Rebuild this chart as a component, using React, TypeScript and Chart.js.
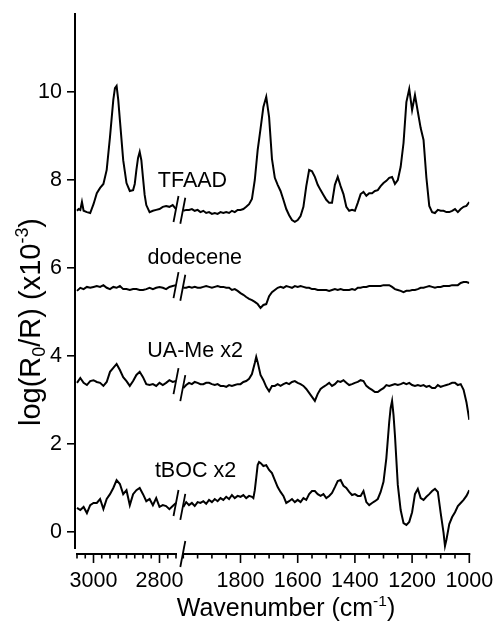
import React, { useEffect, useRef } from "react";
import { Chart, registerables } from "chart.js";

Chart.register(...registerables);

const FONT_FAMILY = "'Liberation Sans', Arial, Helvetica, sans-serif";

// ---------- axis definitions (wavenumber in cm-1) ----------
const LEFT_SPAN = [3050, 2750];
const RIGHT_SPAN = [2000, 1000];
const Y_MIN = -0.5;
const Y_MAX = 11.795;
const Y_AXIS_LINE_BOTTOM = -0.386;
const Y_TICKS = [0, 2, 4, 6, 8, 10];
const X_MAJOR = [3000, 2800, 1800, 1600, 1400, 1200, 1000];
const X_MINOR = [
  3050, 3025, 2975, 2950, 2925, 2900, 2875, 2850, 2825, 2775, 2750,
  2000, 1950, 1900, 1850, 1750, 1700, 1650, 1550, 1500, 1450, 1350, 1300, 1250, 1150, 1100, 1050,
];

// ---------- sampling grids ----------
const LEFT_GRID = [
  3050, 3040, 3030, 3020, 3010, 3000, 2990, 2980, 2970, 2960,
  2950, 2940, 2930, 2920, 2910, 2900, 2890, 2880, 2870, 2860,
  2850, 2840, 2830, 2820, 2810, 2800, 2790, 2780, 2770, 2760,
  2750,
];
const RIGHT_GRID = [
  2000, 1990, 1980, 1970, 1960, 1950, 1940, 1930, 1920, 1910,
  1900, 1890, 1880, 1870, 1860, 1850, 1840, 1830, 1820, 1810,
  1800, 1790, 1780, 1770, 1760, 1750, 1740, 1730, 1720, 1710,
  1700, 1690, 1680, 1670, 1660, 1650, 1640, 1630, 1620, 1610,
  1600, 1590, 1580, 1570, 1560, 1550, 1540, 1530, 1520, 1510,
  1500, 1490, 1480, 1470, 1460, 1450, 1440, 1430, 1420, 1410,
  1400, 1390, 1380, 1370, 1360, 1350, 1340, 1330, 1320, 1310,
  1300, 1290, 1280, 1270, 1260, 1250, 1240, 1230, 1220, 1210,
  1200, 1190, 1180, 1170, 1160, 1150, 1140, 1130, 1120, 1110,
  1100, 1090, 1080, 1070, 1060, 1050, 1040, 1030, 1020, 1010,
  1000,
];

// ---------- TFAAD ----------
const tfaadLeftWn = [
  3050, 3045, 3040, 3035, 3030, 3020, 3010, 3000, 2990, 2980, 2970, 2960, 2950,
  2940, 2935, 2930, 2925, 2920, 2910, 2900, 2890, 2880, 2875, 2870, 2865, 2860,
  2855, 2850, 2845, 2840, 2830, 2820, 2810, 2800, 2790, 2780, 2770, 2760, 2750,
];
const tfaadLeft = [
  7.30, 7.34, 7.32, 7.50, 7.30, 7.27, 7.25, 7.45, 7.70, 7.82, 7.91, 8.23, 8.98,
  9.82, 10.09, 10.14, 9.82, 9.36, 8.45, 7.93, 7.75, 7.77, 7.91, 8.23, 8.50, 8.64,
  8.45, 8.05, 7.66, 7.43, 7.27, 7.30, 7.32, 7.34, 7.39, 7.41, 7.39, 7.43, 7.34,
];
const tfaadRight = [
  7.30, 7.32, 7.32, 7.34, 7.30, 7.32, 7.27, 7.30, 7.25, 7.27,
  7.23, 7.25, 7.23, 7.27, 7.25, 7.27, 7.25, 7.30, 7.27, 7.32,
  7.32, 7.34, 7.39, 7.45, 7.57, 8.00, 8.68, 9.16, 9.66, 9.89,
  9.43, 8.48, 8.05, 7.89, 7.75, 7.55, 7.34, 7.20, 7.09, 7.05,
  7.09, 7.18, 7.39, 7.86, 8.23, 8.20, 8.07, 7.89, 7.77, 7.66,
  7.55, 7.48, 7.48, 7.89, 8.07, 7.86, 7.68, 7.39, 7.30, 7.32,
  7.30, 7.48, 7.68, 7.73, 7.64, 7.70, 7.70, 7.75, 7.77, 7.86,
  7.93, 7.98, 8.05, 8.07, 7.91, 8.00, 8.30, 8.84, 9.77, 10.07,
  9.59, 9.93, 9.55, 9.18, 8.91, 8.05, 7.41, 7.27, 7.25, 7.32,
  7.30, 7.30, 7.27, 7.27, 7.30, 7.34, 7.27, 7.34, 7.39, 7.41,
  7.50,
];

// ---------- dodecene ----------
const dodeceneLeft = [
  5.48, 5.55, 5.52, 5.57, 5.55, 5.57, 5.59, 5.57, 5.61, 5.55,
  5.52, 5.57, 5.55, 5.59, 5.52, 5.52, 5.50, 5.52, 5.52, 5.50,
  5.50, 5.52, 5.55, 5.52, 5.55, 5.57, 5.55, 5.52, 5.57, 5.59,
  5.61,
];
const dodeceneRight = [
  5.55, 5.55, 5.57, 5.55, 5.57, 5.55, 5.55, 5.57, 5.59, 5.57,
  5.55, 5.57, 5.59, 5.57, 5.57, 5.55, 5.55, 5.50, 5.52, 5.48,
  5.43, 5.39, 5.34, 5.30, 5.27, 5.23, 5.18, 5.09, 5.16, 5.18,
  5.36, 5.45, 5.50, 5.55, 5.57, 5.55, 5.59, 5.57, 5.55, 5.59,
  5.57, 5.59, 5.57, 5.55, 5.55, 5.52, 5.52, 5.50, 5.50, 5.50,
  5.50, 5.48, 5.50, 5.52, 5.50, 5.52, 5.50, 5.50, 5.50, 5.52,
  5.50, 5.55, 5.55, 5.57, 5.57, 5.59, 5.59, 5.59, 5.59, 5.59,
  5.61, 5.61, 5.61, 5.57, 5.52, 5.50, 5.48, 5.45, 5.48, 5.48,
  5.50, 5.50, 5.52, 5.55, 5.55, 5.57, 5.59, 5.57, 5.55, 5.57,
  5.57, 5.59, 5.59, 5.59, 5.61, 5.61, 5.61, 5.66, 5.68, 5.68,
  5.66,
];

// ---------- UA-Me x2 ----------
const uaMeLeft = [
  3.39, 3.50, 3.39, 3.34, 3.43, 3.45, 3.41, 3.39, 3.32, 3.41,
  3.64, 3.73, 3.82, 3.68, 3.52, 3.43, 3.32, 3.43, 3.57, 3.64,
  3.52, 3.36, 3.34, 3.36, 3.32, 3.39, 3.34, 3.39, 3.45, 3.41,
  3.43,
];
const uaMeRightWn = [
  2000, 1990, 1980, 1970, 1960, 1950, 1940, 1930, 1920, 1910,
  1900, 1890, 1880, 1870, 1860, 1850, 1840, 1830, 1820, 1810,
  1800, 1790, 1780, 1770, 1760, 1750, 1745, 1740, 1730, 1720, 1710,
  1700, 1690, 1680, 1670, 1660, 1650, 1640, 1630, 1620, 1610,
  1600, 1590, 1580, 1570, 1560, 1550, 1540, 1530, 1520, 1510,
  1500, 1490, 1480, 1470, 1460, 1450, 1440, 1430, 1420, 1410,
  1400, 1390, 1380, 1370, 1360, 1350, 1340, 1330, 1320, 1310,
  1300, 1290, 1280, 1270, 1260, 1250, 1240, 1230, 1220, 1210,
  1200, 1190, 1180, 1170, 1160, 1150, 1140, 1130, 1120, 1110,
  1100, 1090, 1080, 1070, 1060, 1050, 1040, 1030, 1020, 1010,
  1000,
];
const uaMeRight = [
  3.27, 3.34, 3.39, 3.36, 3.41, 3.39, 3.36, 3.36, 3.39, 3.39,
  3.36, 3.34, 3.36, 3.32, 3.32, 3.30, 3.34, 3.32, 3.34, 3.36,
  3.36, 3.41, 3.43, 3.48, 3.59, 3.84, 3.98, 3.86, 3.57, 3.45, 3.30,
  3.20, 3.32, 3.32, 3.36, 3.32, 3.36, 3.39, 3.36, 3.41, 3.43,
  3.39, 3.36, 3.32, 3.25, 3.16, 3.07, 2.98, 3.14, 3.25, 3.30,
  3.34, 3.39, 3.32, 3.36, 3.43, 3.41, 3.45, 3.39, 3.34, 3.36,
  3.39, 3.41, 3.45, 3.43, 3.32, 3.27, 3.23, 3.18, 3.18, 3.23,
  3.27, 3.34, 3.32, 3.34, 3.36, 3.34, 3.36, 3.39, 3.36, 3.39,
  3.34, 3.32, 3.34, 3.32, 3.34, 3.30, 3.32, 3.27, 3.27, 3.34,
  3.30, 3.32, 3.34, 3.36, 3.39, 3.39, 3.34, 3.36, 3.23, 2.95,
  2.55,
];

// ---------- tBOC x2 ----------
const tbocLeft = [
  0.55, 0.50, 0.57, 0.43, 0.61, 0.66, 0.66, 0.75, 0.52, 0.75,
  0.86, 1.00, 1.18, 1.09, 0.86, 0.95, 0.61, 0.86, 0.95, 1.00,
  0.86, 0.70, 0.75, 0.61, 0.77, 0.57, 0.61, 0.59, 0.52, 0.59,
  0.66,
];
const tbocRightWn = [
  2000, 1990, 1980, 1970, 1960, 1950, 1940, 1930, 1920, 1910,
  1900, 1890, 1880, 1870, 1860, 1850, 1840, 1830, 1820, 1810,
  1800, 1790, 1780, 1770, 1760, 1755, 1750, 1745, 1740, 1735, 1730, 1720, 1710,
  1700, 1690, 1680, 1670, 1660, 1650, 1640, 1630, 1620, 1610,
  1600, 1590, 1580, 1570, 1560, 1550, 1540, 1530, 1520, 1510,
  1500, 1490, 1480, 1470, 1460, 1450, 1440, 1430, 1420, 1410,
  1400, 1390, 1380, 1370, 1360, 1350, 1340, 1330, 1320, 1310,
  1300, 1290, 1280, 1275, 1270, 1265, 1260, 1250, 1240, 1230, 1220, 1210,
  1200, 1190, 1180, 1170, 1160, 1150, 1140, 1130, 1120, 1110,
  1100, 1090, 1085, 1080, 1070, 1060, 1050, 1040, 1030, 1020, 1010,
  1000,
];
const tbocRight = [
  0.57, 0.68, 0.61, 0.66, 0.59, 0.68, 0.66, 0.70, 0.64, 0.73,
  0.68, 0.75, 0.70, 0.77, 0.73, 0.80, 0.75, 0.84, 0.77, 0.82,
  0.80, 0.84, 0.77, 0.82, 0.80, 0.77, 0.95, 1.23, 1.52, 1.59, 1.57, 1.50, 1.52,
  1.41, 1.34, 1.18, 1.02, 0.91, 0.82, 0.66, 0.70, 0.75, 0.68,
  0.73, 0.68, 0.77, 0.73, 0.86, 0.93, 0.93, 0.86, 0.82, 0.86,
  0.77, 0.82, 0.89, 1.02, 1.16, 1.18, 1.05, 1.00, 0.91, 0.84,
  0.86, 0.82, 0.82, 0.93, 0.68, 0.61, 0.66, 0.70, 0.75, 0.91,
  1.14, 1.68, 2.50, 2.82, 2.98, 2.66, 2.20, 1.07, 0.50, 0.20, 0.16, 0.23,
  0.45, 0.86, 0.98, 0.77, 0.73, 0.80, 0.86, 0.93, 0.98, 0.91,
  0.43, -0.02, -0.32, -0.18, 0.18, 0.34, 0.45, 0.59, 0.66, 0.73, 0.82,
  0.95,
];

// ---------- trace labels (anchored in data coordinates) ----------
const TRACE_LABELS = [
  { text: "TFAAD", wn: 2805, value: 7.83 },
  { text: "dodecene", wn: 2836, value: 6.09 },
  { text: "UA-Me x2", wn: 2837, value: 3.98 },
  { text: "tBOC x2", wn: 2814, value: 1.25 },
];

// ---------- broken-axis mapping ----------
const SEG_LEFT_PX = 99;
const SEG_GAP_PX = 7.3;
const SEG_RIGHT_PX = 286;
const U_MIN = -2;
const U_MAX = SEG_LEFT_PX + SEG_GAP_PX + SEG_RIGHT_PX;

function toU(w: number): number {
  if (w >= LEFT_SPAN[1]) {
    return ((LEFT_SPAN[0] - w) / (LEFT_SPAN[0] - LEFT_SPAN[1])) * SEG_LEFT_PX;
  }
  return (
    SEG_LEFT_PX +
    SEG_GAP_PX +
    ((RIGHT_SPAN[0] - w) / (RIGHT_SPAN[0] - RIGHT_SPAN[1])) * SEG_RIGHT_PX
  );
}

function points(wn: number[], vals: number[]) {
  return wn.map((w, i) => ({ x: toU(w), y: vals[i] }));
}

const TRACES = [
  { left: points(tfaadLeftWn, tfaadLeft), right: points(RIGHT_GRID, tfaadRight) },
  { left: points(LEFT_GRID, dodeceneLeft), right: points(RIGHT_GRID, dodeceneRight) },
  { left: points(LEFT_GRID, uaMeLeft), right: points(uaMeRightWn, uaMeRight) },
  { left: points(LEFT_GRID, tbocLeft), right: points(tbocRightWn, tbocRight) },
];

type Part = { t: string; s?: "sup" | "sub" };

function font(size: number) {
  return `${size}px ${FONT_FAMILY}`;
}

function drawRich(
  ctx: CanvasRenderingContext2D,
  parts: Part[],
  x: number,
  y: number,
  size: number
) {
  const small = size * 0.62;
  let total = 0;
  for (const p of parts) {
    ctx.font = font(p.s ? small : size);
    total += ctx.measureText(p.t).width;
  }
  let cx = x - total / 2;
  ctx.textAlign = "left";
  ctx.textBaseline = "alphabetic";
  for (const p of parts) {
    ctx.font = font(p.s ? small : size);
    const dy = p.s === "sup" ? -size * 0.4 : p.s === "sub" ? size * 0.18 : 0;
    ctx.fillText(p.t, cx, y + dy);
    cx += ctx.measureText(p.t).width;
  }
}

const Y_TITLE: Part[] = [
  { t: "log(R" },
  { t: "0", s: "sub" },
  { t: "/R) (x10" },
  { t: "-3", s: "sup" },
  { t: ")" },
];
const X_TITLE: Part[] = [{ t: "Wavenumber (cm" }, { t: "-1", s: "sup" }, { t: ")" }];

const brokenAxisPlugin = {
  id: "brokenAxis",
  afterDraw(chart: any) {
    const ctx: CanvasRenderingContext2D = chart.ctx;
    const xs = chart.scales.x;
    const ys = chart.scales.y;
    const ca = chart.chartArea;
    const px = (w: number) => xs.getPixelForValue(toU(w));
    const py = (v: number) => ys.getPixelForValue(v);
    ctx.save();
    ctx.strokeStyle = "#000";
    ctx.fillStyle = "#000";
    ctx.lineCap = "butt";

    // y axis line
    ctx.lineWidth = 2;
    ctx.beginPath();
    ctx.moveTo(ca.left, py(Y_MAX));
    ctx.lineTo(ca.left, py(Y_AXIS_LINE_BOTTOM));
    ctx.stroke();

    // x axis (two segments)
    const yb = ca.bottom;
    ctx.beginPath();
    ctx.moveTo(px(LEFT_SPAN[0]) - 1, yb);
    ctx.lineTo(px(LEFT_SPAN[1]) + 1, yb);
    ctx.moveTo(px(RIGHT_SPAN[0]) - 1, yb);
    ctx.lineTo(px(RIGHT_SPAN[1]) + 1, yb);
    ctx.stroke();

    // x ticks
    ctx.lineWidth = 1.6;
    ctx.beginPath();
    for (const w of X_MAJOR) {
      ctx.moveTo(px(w), yb);
      ctx.lineTo(px(w), yb + 9);
    }
    for (const w of X_MINOR) {
      ctx.moveTo(px(w), yb);
      ctx.lineTo(px(w), yb + 4.5);
    }
    ctx.stroke();

    // x axis break mark
    ctx.lineWidth = 1.8;
    const xr = px(RIGHT_SPAN[0]);
    ctx.beginPath();
    ctx.moveTo(xr - 3, yb + 13);
    ctx.lineTo(xr + 2, yb - 13);
    ctx.stroke();

    // break marks on each trace
    const xl = px(LEFT_SPAN[1]);
    for (const tr of TRACES) {
      const yl = py(tr.left[tr.left.length - 1].y);
      const yr = py(tr.right[0].y);
      ctx.beginPath();
      ctx.moveTo(xl - 2.5, yl + 13);
      ctx.lineTo(xl + 2.5, yl - 13);
      ctx.moveTo(xr - 3, yr + 13);
      ctx.lineTo(xr + 2, yr - 13);
      ctx.stroke();
    }

    // x tick labels
    ctx.font = font(21.5);
    ctx.textAlign = "center";
    ctx.textBaseline = "alphabetic";
    for (const w of X_MAJOR) {
      ctx.fillText(String(w), px(w), yb + 33);
    }

    // trace labels
    ctx.textAlign = "left";
    for (const l of TRACE_LABELS) {
      ctx.fillText(l.text, px(l.wn), py(l.value));
    }

    // x title
    drawRich(ctx, X_TITLE, 286, yb + 62, 25);

    // y title
    ctx.save();
    ctx.translate(40, 322);
    ctx.rotate(-Math.PI / 2);
    drawRich(ctx, Y_TITLE, 0, 0, 29);
    ctx.restore();

    ctx.restore();
  },
};

export default function App() {
  const ref = useRef<HTMLCanvasElement>(null);

  useEffect(() => {
    const canvas = ref.current;
    if (!canvas) return;
    const datasets: any[] = [];
    for (const tr of TRACES) {
      for (const seg of [tr.left, tr.right]) {
        datasets.push({
          data: seg,
          borderColor: "#000",
          borderWidth: 2,
          pointRadius: 0,
          tension: 0,
          fill: false,
        });
      }
    }
    const chart = new Chart(canvas, {
      type: "line",
      data: { datasets },
      options: {
        animation: false,
        responsive: false,
        devicePixelRatio: 1,
        events: [],
        layout: { padding: { left: 0, right: 23.7, top: 13, bottom: 71 } },
        plugins: {
          legend: { display: false },
          tooltip: { enabled: false },
        },
        scales: {
          x: { type: "linear", display: false, min: U_MIN, max: U_MAX },
          y: {
            type: "linear",
            min: Y_MIN,
            max: Y_MAX,
            afterBuildTicks: (s: any) => {
              s.ticks = Y_TICKS.map((v) => ({ value: v }));
            },
            afterFit: (s: any) => {
              s.width = 75;
              s.paddingTop = 0;
              s.paddingBottom = 0;
            },
            grid: {
              drawOnChartArea: false,
              drawTicks: true,
              tickLength: 8,
              color: "#000",
              lineWidth: 1.6,
            },
            border: { display: false },
            ticks: {
              color: "#000",
              padding: 5,
              font: { family: FONT_FAMILY, size: 21.5 },
            },
          },
        },
      } as any,
      plugins: [brokenAxisPlugin],
    });
    return () => chart.destroy();
  }, []);

  return (
    <div
      style={{
        position: "fixed",
        left: 0,
        top: 0,
        width: 493,
        height: 625,
        background: "#fff",
      }}
    >
      <canvas
        ref={ref}
        width={493}
        height={625}
        style={{ display: "block", width: 493, height: 625 }}
      />
    </div>
  );
}
